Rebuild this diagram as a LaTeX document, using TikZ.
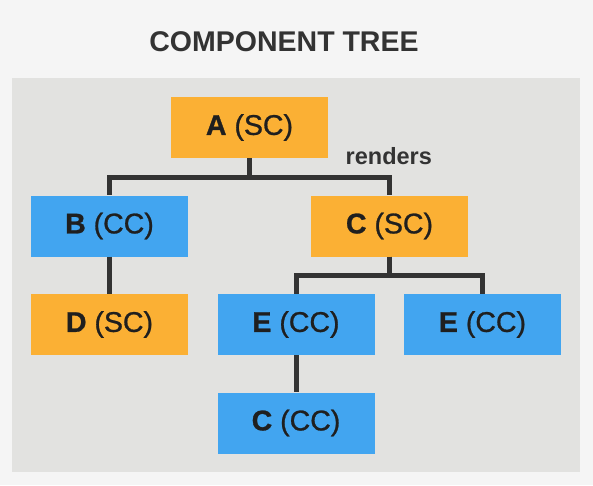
\documentclass[tikz,border=0pt]{standalone}
\usepackage{fontspec}
\setmainfont{Liberation Sans}
\newfontfamily\medfont[FakeBold=0.9]{Liberation Sans}
\usepackage{tikz}
\definecolor{scorange}{HTML}{FBB034}
\definecolor{ccblue}{HTML}{42A5F0}
\definecolor{panelgray}{HTML}{E2E2E0}
\definecolor{pagegray}{HTML}{F5F5F5}
\definecolor{linegray}{HTML}{333333}
\tikzstyle{server} = [rectangle, minimum width=157pt, minimum height=61pt, inner sep=0pt, text centered, fill=scorange, text=black!88, font=\fontsize{28.5}{30}\selectfont\medfont]
\tikzstyle{client} = [server, fill=ccblue]
\tikzstyle{link} = [line width=5pt, draw=linegray]

\begin{document}
\begin{tikzpicture}[x=1pt, y=1pt, node distance=98.5pt]
\fill [pagegray] (0,0) rectangle (593,-485);
\useasboundingbox (0,0) rectangle (593,-485);
\fill [panelgray] (12,-78) rectangle (580,-472);
\node (title) at (284,-42) [font=\fontsize{28.5}{30}\selectfont\bfseries, text=linegray] {COMPONENT TREE};
\node (a) [server] at (249.5,-127.5) {\textbf{A} (SC)};
\node (b) [client, below of=a, xshift=-140pt] {\textbf{B} (CC)};
\node (c) [server, below of=a, xshift=140pt] {\textbf{C} (SC)};
\node (d) [server, below of=b] {\textbf{D} (SC)};
\node (e) [client, below of=c, xshift=-93.5pt] {\textbf{E} (CC)};
\node (e2) [client, below of=c, xshift=93pt] {\textbf{E} (CC)};
\node (cc) [client, below of=e] {\textbf{C} (CC)};
\node (rend) [anchor=west, xshift=14pt, yshift=2pt, font=\fontsize{23.5}{26}\selectfont\bfseries, text=linegray] at (a.south east) {renders};
\draw [link] (a.south) -- ++(0,-19) -| (b.north);
\draw [link] (a.south) -- ++(0,-19) -| (c.north);
\draw [link] (b) -- (d);
\draw [link] (c.south) -- ++(0,-19) -| (e.north);
\draw [link] (c.south) -- ++(0,-19) -| (e2.north);
\draw [link] (e) -- (cc);
\end{tikzpicture}
\end{document}
